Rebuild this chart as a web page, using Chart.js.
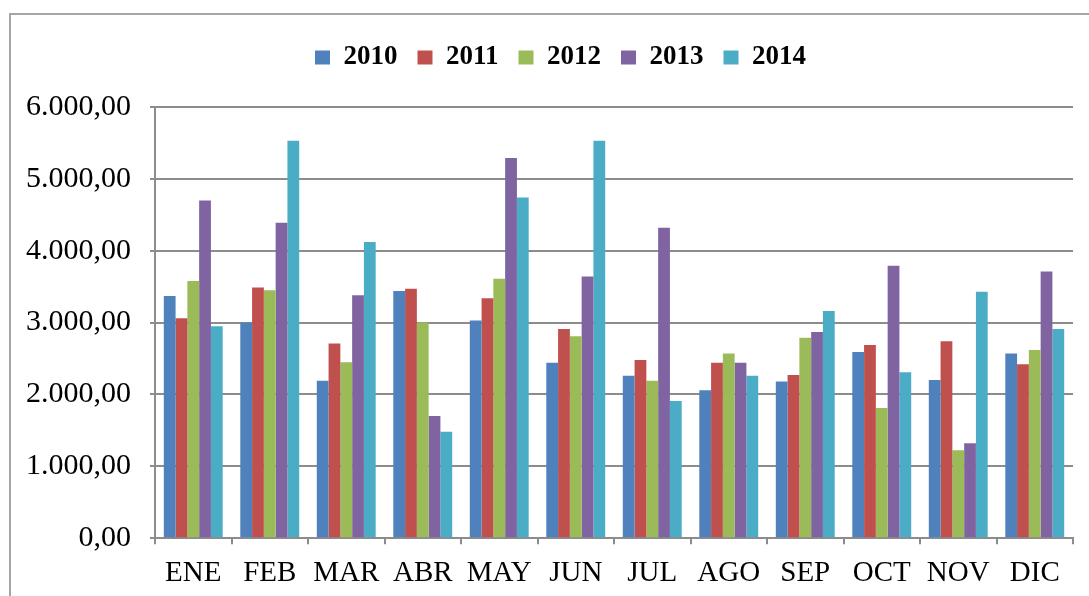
<!DOCTYPE html>
<html>
<head>
<meta charset="utf-8">
<script src="https://cdn.jsdelivr.net/npm/chart.js@4.4.0/dist/chart.umd.min.js"></script>
<style>
  html, body { margin: 0; padding: 0; background: #fff; overflow: hidden; }
  #frame { position: absolute; left: 9px; top: 13px; width: 1100px; height: 620px; border: 2px solid #a5a5a5; }
  #wrap { position: absolute; left: 0; top: 0; width: 1120px; height: 603px; }
</style>
</head>
<body>
<div id="frame"></div>
<div id="wrap"><canvas id="myChart"></canvas></div>
<script>
  // meses
  const meses = ["ENE", "FEB", "MAR", "ABR", "MAY", "JUN", "JUL", "AGO", "SEP", "OCT", "NOV", "DIC"];

  // valores por año
  const v2010 = [3370, 3000, 2190, 3440, 3030, 2440, 2260, 2060, 2180, 2590, 2200, 2570];
  const v2011 = [3060, 3490, 2710, 3470, 3340, 2910, 2480, 2440, 2270, 2690, 2740, 2420];
  const v2012 = [3580, 3450, 2450, 3000, 3610, 2810, 2190, 2570, 2790, 1810, 1225, 2620];
  const v2013 = [4700, 4390, 3380, 1700, 5290, 3640, 4320, 2440, 2870, 3790, 1320, 3710];
  const v2014 = [2950, 5530, 4120, 1480, 4740, 5530, 1910, 2260, 3160, 2310, 3430, 2910];

  // etiquetas del eje y
  const yTicks = [0, 1000, 2000, 3000, 4000, 5000, 6000];
  const yTickLabels = ["0,00", "1.000,00", "2.000,00", "3.000,00", "4.000,00", "5.000,00", "6.000,00"];

  const anios = ["2010", "2011", "2012", "2013", "2014"];
  const colores = ["#4F81BD", "#C0504D", "#9BBB59", "#8064A2", "#4BACC6"];
  const series = [v2010, v2011, v2012, v2013, v2014];

  const data = {
    labels: meses,
    datasets: series.map((vals, i) => ({
      label: anios[i],
      data: vals,
      backgroundColor: colores[i],
      categoryPercentage: 0.77,
      barPercentage: 1.0,
    })),
  };

  const serif = "'Liberation Serif', 'Times New Roman', serif";

  // espacio extra bajo la leyenda y leyenda un poco a la derecha
  const legendMargin = {
    id: "legendMargin",
    beforeInit(chart) {
      const fit = chart.legend.fit;
      chart.legend.fit = function () {
        fit.bind(chart.legend)();
        this.height += 26;
      };
    },
    afterLayout(chart) {
      chart.legend.left += 24;
      chart.legend.right += 24;
    },
  };

  const config = {
    type: "bar",
    data: data,
    options: {
      responsive: true,
      maintainAspectRatio: false,
      animation: false,
      layout: { padding: { left: 0, right: 47, top: 24, bottom: 0 } },
      plugins: {
        legend: {
          position: "top",
          labels: {
            color: "#000",
            font: { family: serif, size: 27, weight: "bold" },
            boxWidth: 15,
            boxHeight: 14,
            padding: 20,
          },
        },
        tooltip: { enabled: false },
      },
      scales: {
        y: {
          min: 0,
          max: 6000,
          afterBuildTicks: (scale) => {
            scale.ticks = yTicks.map((v) => ({ value: v }));
          },
          afterFit: (scale) => {
            scale.width = 155;
          },
          ticks: {
            color: "#000",
            font: { family: serif, size: 30 },
            padding: 19,
            callback: (value, index) => yTickLabels[index],
          },
          grid: { color: "#8c8c8c", lineWidth: 2, tickLength: 5 },
          border: { color: "#8c8c8c", width: 2 },
        },
        x: {
          ticks: {
            color: "#000",
            font: { family: serif, size: 29 },
            padding: 12,
            maxRotation: 0,
          },
          grid: { drawOnChartArea: false, color: "#8c8c8c", lineWidth: 2, tickLength: 6 },
          border: { color: "#8c8c8c", width: 2 },
        },
      },
    },
    plugins: [legendMargin],
  };

  const myChart = new Chart(document.getElementById("myChart"), config);
</script>
</body>
</html>
